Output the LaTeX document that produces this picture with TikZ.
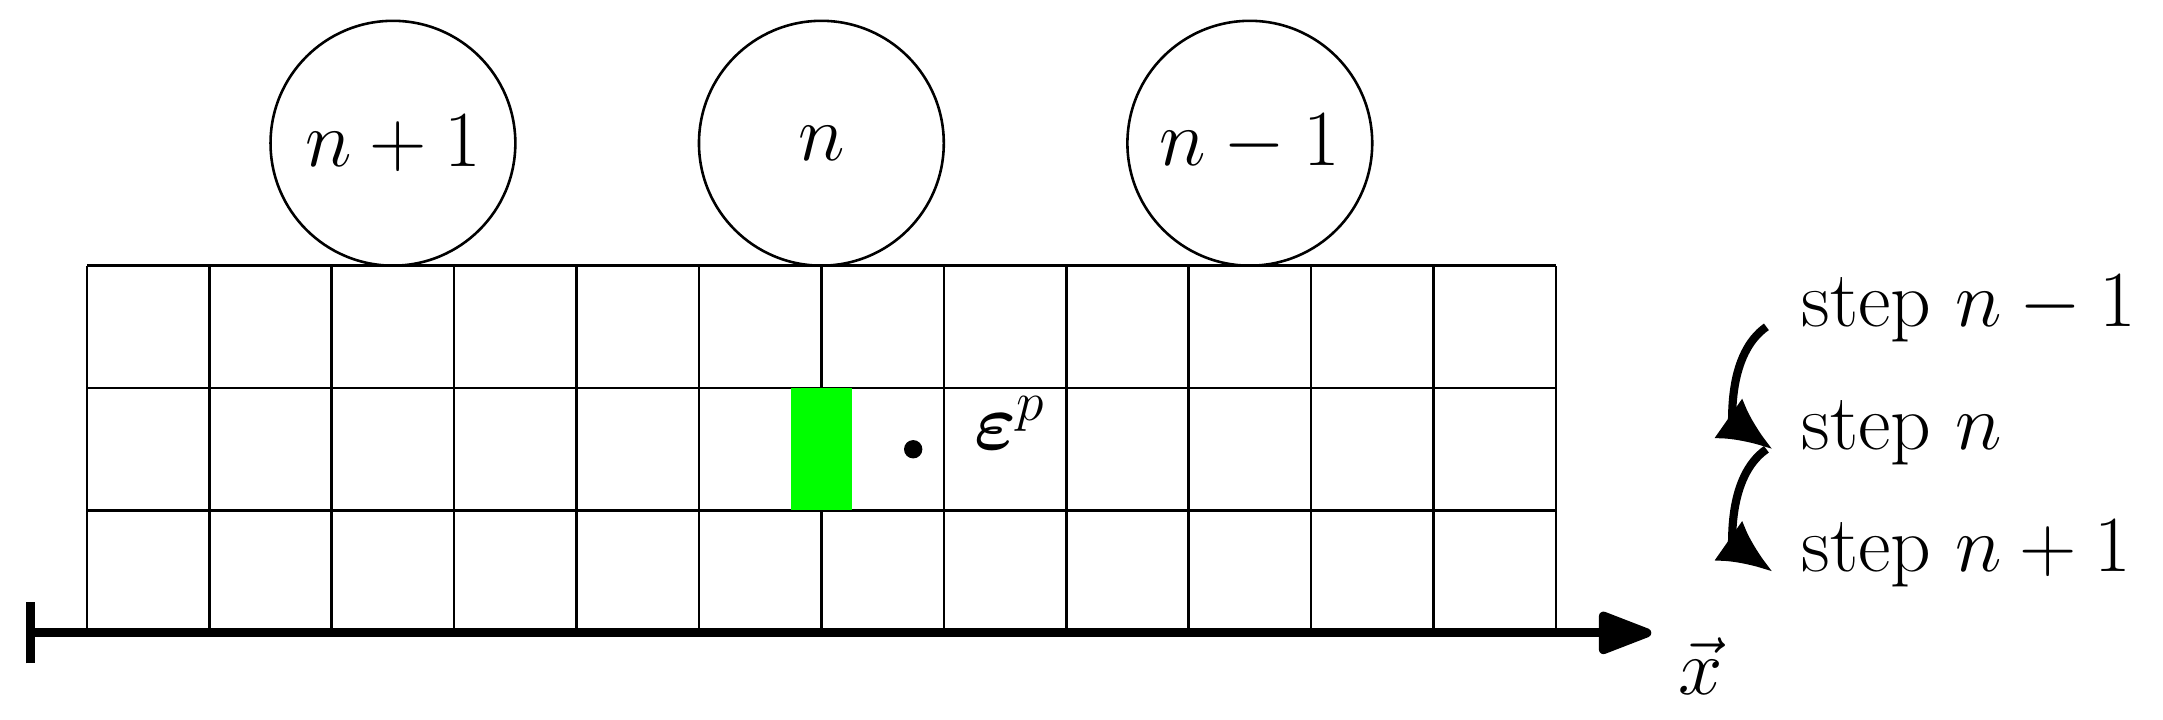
\RequirePackage{fix-cm}
\documentclass[tikz,border=0pt]{standalone}
\usepackage{amsmath}
\usepackage{amssymb}
\usetikzlibrary{arrows.meta, positioning}

\begin{document}
\begin{tikzpicture}[
    bigfont/.style={font=\fontsize{18.5}{22}\selectfont},
    cell/.style={semithick},
    ball/.style={circle, draw, semithick, minimum size=2cm, inner sep=0pt, bigfont},
    steptext/.style={anchor=base west, inner sep=0pt, bigfont},
    arrow/.style={-{Latex[length=4.4mm,width=4mm]}, line width=1.9pt},
    axis/.style={{Bar[width=5mm]}-{Triangle[round,length=5mm,width=3.6mm]}, line width=2.1pt}
]
    \useasboundingbox (-0.71,-0.71) rectangle (16.96,5.17);

    % Mesh and plastic cell
    \draw[cell] (0,0) grid (12,3);
    \fill[green] (5.75,1) rectangle (6.25,2);

    % Balls
    \node[ball] (b1) at (2.5,4) {$n+1$};
    \node[ball] (b2) at (6,4) {$n$};
    \node[ball] (b3) at (9.5,4) {$n-1$};

    % Strain point
    \node[circle, fill, inner sep=0pt, minimum size=1.5mm] (dot) at (6.75,1.5) {};
    \node[anchor=base, bigfont] (eps) at (7.54,1.5) {$\boldsymbol{\varepsilon}^p$};

    % Axis
    \coordinate (x0) at (-0.5,0);
    \coordinate (x1) at (12.78,0);
    \draw[axis] (x0) -- (x1);
    \node[anchor=base, bigfont] (xlab) at (13.18,-0.5) {$\vec{x}$};

    % Steps
    \node[steptext] (s1) at (14,2.5) {step $n-1$};
    \node[steptext] (s2) at (14,1.5) {step $n$};
    \node[steptext] (s3) at (14,0.5) {step $n+1$};
    \draw[arrow] ([xshift=-2.8mm]s1.base west) to[out=215,in=145] ([xshift=-2.3mm]s2.base west);
    \draw[arrow] ([xshift=-2.8mm]s2.base west) to[out=215,in=145] ([xshift=-2.3mm]s3.base west);
\end{tikzpicture}
\end{document}
